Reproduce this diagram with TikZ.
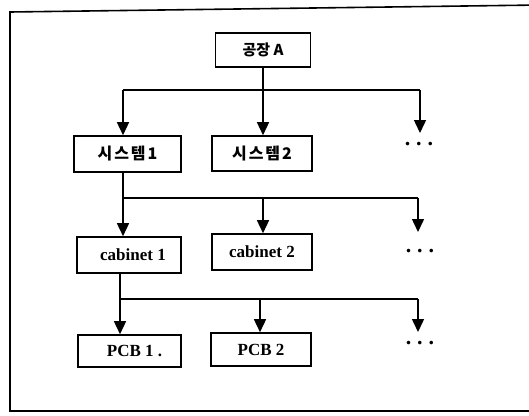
\documentclass[tikz,border=0pt]{standalone}
\usepackage{fontspec}
\setmainfont{Liberation Serif}
\newfontfamily\kr{Noto Sans CJK KR}
\newfontfamily\krwide{Noto Sans CJK KR}[LetterSpace=12]
\usetikzlibrary{arrows.meta}
\tikzset{
  unitbox/.style={draw, line width=1.6pt, inner sep=0pt, align=center},
  krtext/.style={font=\kr\bfseries\fontsize{15}{17}\selectfont},
  krwidetext/.style={font=\krwide\bfseries\fontsize{16}{18}\selectfont},
  entext/.style={font=\bfseries\fontsize{17}{19}\selectfont},
  link/.style={line width=1.5pt},
  feed/.style={line width=1.5pt, -{Triangle[width=12pt,length=13pt]}},
  more/.style={font=\bfseries\fontsize{22}{22}\selectfont, inner sep=0pt},
}
\newcommand{\moredots}{.\hspace{6pt}.\hspace{6pt}.}
\begin{document}
\begin{tikzpicture}[x=1pt, y=-1pt]
\useasboundingbox (0,0) rectangle (529,415);
% outer frame (right side runs off the page)
\draw[line width=1.6pt] (540,5) -- (10,12) -- (10,411) -- (540,411);

% level 1
\node[unitbox, krtext, minimum width=95pt, minimum height=34pt] (top) at (263,50) {공장 A};
% level 2
\node[unitbox, krwidetext, minimum width=107pt, minimum height=36pt] (s1) at (127.5,154) {시스템1};
\node[unitbox, krwidetext, minimum width=100pt, minimum height=35pt] (s2) at (262,153.5) {시스템2};
\node[more] (d1) at (419,144) {\moredots};
% level 3
\node[unitbox, entext, minimum width=104pt, minimum height=36pt] (c1) at (129,255) {\hspace*{8pt}cabinet 1};
\node[unitbox, entext, minimum width=100pt, minimum height=36pt] (c2) at (262,252) {cabinet 2};
\node[more] (d2) at (420,251) {\moredots};
% level 4
\node[unitbox, entext, minimum width=103pt, minimum height=32pt] (p1) at (129.5,351) {\hspace*{10pt}PCB 1 .};
\node[unitbox, entext, minimum width=100pt, minimum height=33pt] (p2) at (261,349.5) {PCB 2};
\node[more] (d3) at (420,343) {\moredots};

% bus from level 1
\coordinate (b1l) at (123,90);
\coordinate (b1r) at (420,90);
\coordinate (t1) at (420,133);
\draw[link] (top.south) -- (top.south |- b1l);
\draw[link] (b1l) -- (b1r);
\draw[feed] (b1l) -- (b1l |- s1.north);
\draw[feed] (top.south |- b1l) -- (s2.north -| top.south);
\draw[feed] (b1r) -- (t1);

% bus from level 2
\coordinate (b2l) at (123,198);
\coordinate (b2r) at (418,198);
\coordinate (t2) at (418,232);
\coordinate (b2m) at (263,198);
\draw[link] (s1.south -| b2l) -- (b2l) -- (b2r);
\draw[feed] (b2l) -- (b2l |- c1.north);
\draw[feed] (b2m) -- (b2m |- c2.north);
\draw[feed] (b2r) -- (t2);

% bus from level 3
\coordinate (b3l) at (120,299);
\coordinate (b3r) at (418,299);
\coordinate (t3) at (418,332);
\coordinate (b3m) at (260,299);
\draw[link] (c1.south -| b3l) -- (b3l) -- (b3r);
\draw[feed] (b3l) -- (b3l |- p1.north);
\draw[feed] (b3m) -- (b3m |- p2.north);
\draw[feed] (b3r) -- (t3);
\end{tikzpicture}
\end{document}
